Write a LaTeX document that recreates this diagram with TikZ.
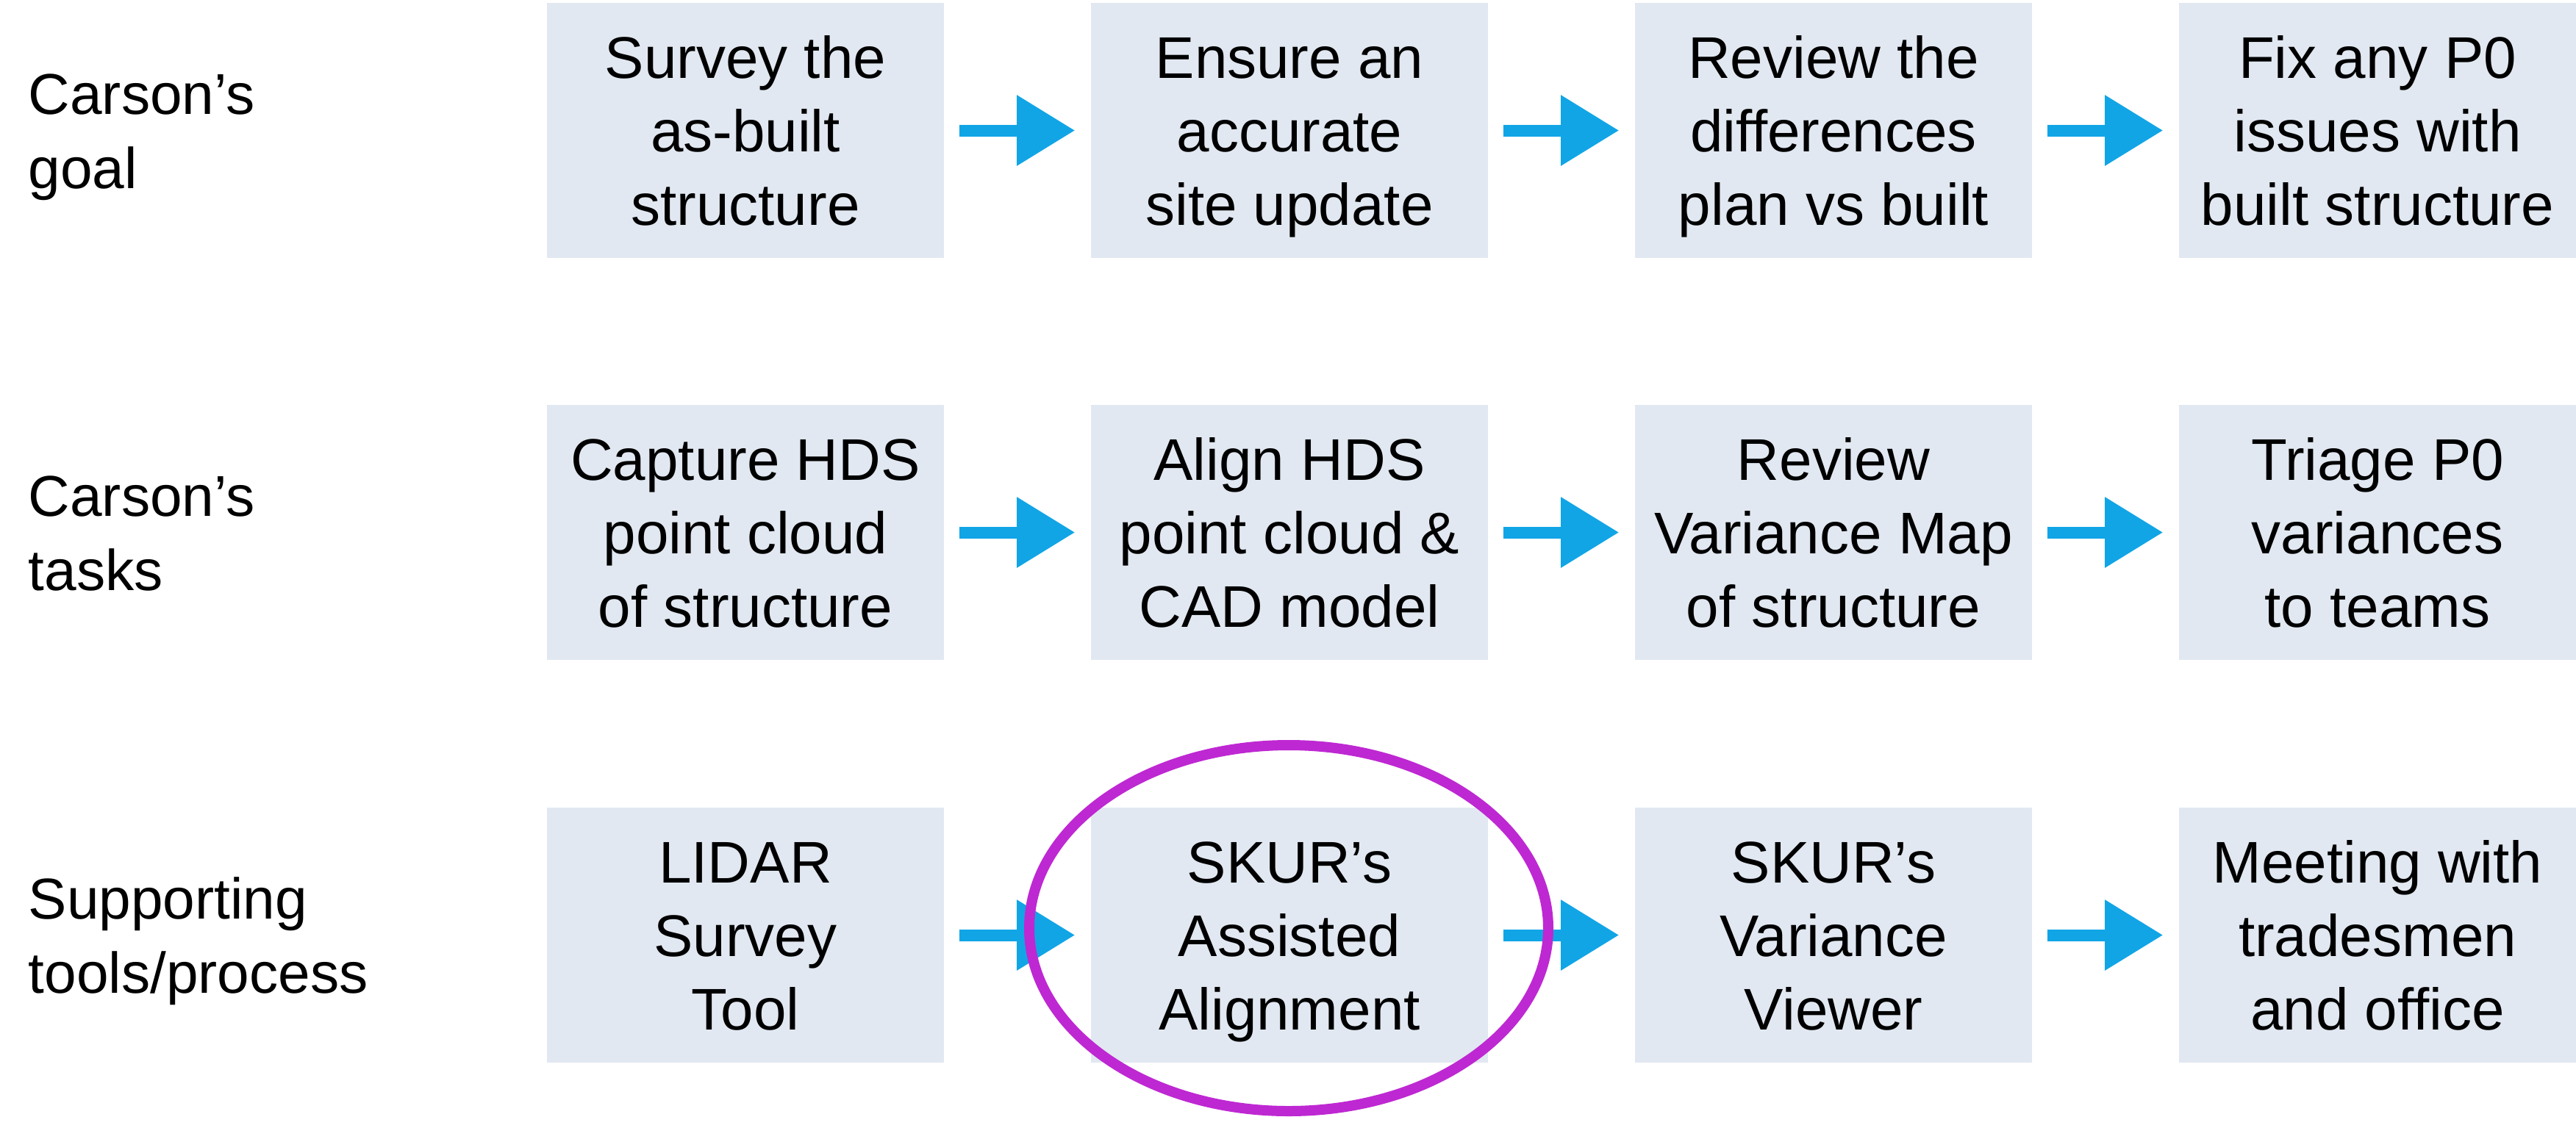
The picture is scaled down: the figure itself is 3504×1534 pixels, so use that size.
\documentclass[tikz,border=0pt]{standalone}
\usepackage{fontspec}
\setmainfont{Liberation Sans}
\usetikzlibrary{arrows.meta}
\definecolor{boxfill}{HTML}{E1E8F1}
\definecolor{flowblue}{HTML}{11A5E6}
\definecolor{ringmag}{HTML}{BE28D2}
\newcommand\bl[1]{\smash{#1}\rule{0pt}{0.716em}}
\newcommand\boxfont{\fontsize{20pt}{25pt}\selectfont}
\newcommand\labfont{\fontsize{19.6pt}{25.25pt}\selectfont}
\tikzset{
  stepbox/.style={fill=boxfill, minimum width=135pt, minimum height=86.75pt,
    inner sep=0pt, align=center, font=\boxfont, text=black},
  rowlabel/.style={anchor=west, align=left, inner sep=0pt, font=\labfont, text=black},
  flow/.style={draw=flowblue, line width=4pt, shorten <=5pt, shorten >=5.25pt,
    -{Triangle[length=19.75pt, width=23pt]}, flowblue},
  ring/.style={draw=ringmag, line width=3.5pt}
}
\begin{document}
\begin{tikzpicture}[x=0.25pt, y=-0.25pt]
\useasboundingbox (0,0) rectangle (3504,1534);
% row labels
\node[rowlabel] (lg) at (38,177.5) {\bl{Carson’s}\\\bl{goal}};
\node[rowlabel] (lt) at (38,724.5) {\bl{Carson’s}\\\bl{tasks}};
\node[rowlabel] (ls) at (38,1272.5) {\bl{Supporting}\\\bl{tools/process}};
% row 1
\node[stepbox] (g1) at (1014,177.5) {\bl{Survey the}\\\bl{as-built}\\\bl{structure}};
\node[stepbox] (g2) at (1754,177.5) {\bl{Ensure an}\\\bl{accurate}\\\bl{site update}};
\node[stepbox] (g3) at (2494,177.5) {\bl{Review the}\\\bl{differences}\\\bl{plan vs built}};
\node[stepbox] (g4) at (3234,177.5) {\bl{Fix any P0}\\\bl{issues with}\\\bl{built structure}};
% row 2
\node[stepbox] (t1) at (1014,724.5) {\bl{Capture HDS}\\\bl{point cloud}\\\bl{of structure}};
\node[stepbox] (t2) at (1754,724.5) {\bl{Align HDS}\\\bl{point cloud \&}\\\bl{CAD model}};
\node[stepbox] (t3) at (2494,724.5) {\bl{Review}\\\bl{Variance Map}\\\bl{of structure}};
\node[stepbox] (t4) at (3234,724.5) {\bl{Triage P0}\\\bl{variances}\\\bl{to teams}};
% row 3
\node[stepbox] (s1) at (1014,1272.5) {\bl{LIDAR}\\\bl{Survey}\\\bl{Tool}};
\node[stepbox] (s2) at (1754,1272.5) {\bl{SKUR’s}\\\bl{Assisted}\\\bl{Alignment}};
\node[stepbox] (s3) at (2494,1272.5) {\bl{SKUR’s}\\\bl{Variance}\\\bl{Viewer}};
\node[stepbox] (s4) at (3234,1272.5) {\bl{Meeting with}\\\bl{tradesmen}\\\bl{and office}};
% arrows
\foreach \r in {g,t,s}{
  \draw[flow] (\r1.east) -- (\r2.west);
  \draw[flow] (\r2.east) -- (\r3.west);
  \draw[flow] (\r3.east) -- (\r4.west);
}
% highlight ring
\draw[ring] (1753,1263) ellipse [x radius=88.25pt, y radius=62.25pt];
\end{tikzpicture}
\end{document}
